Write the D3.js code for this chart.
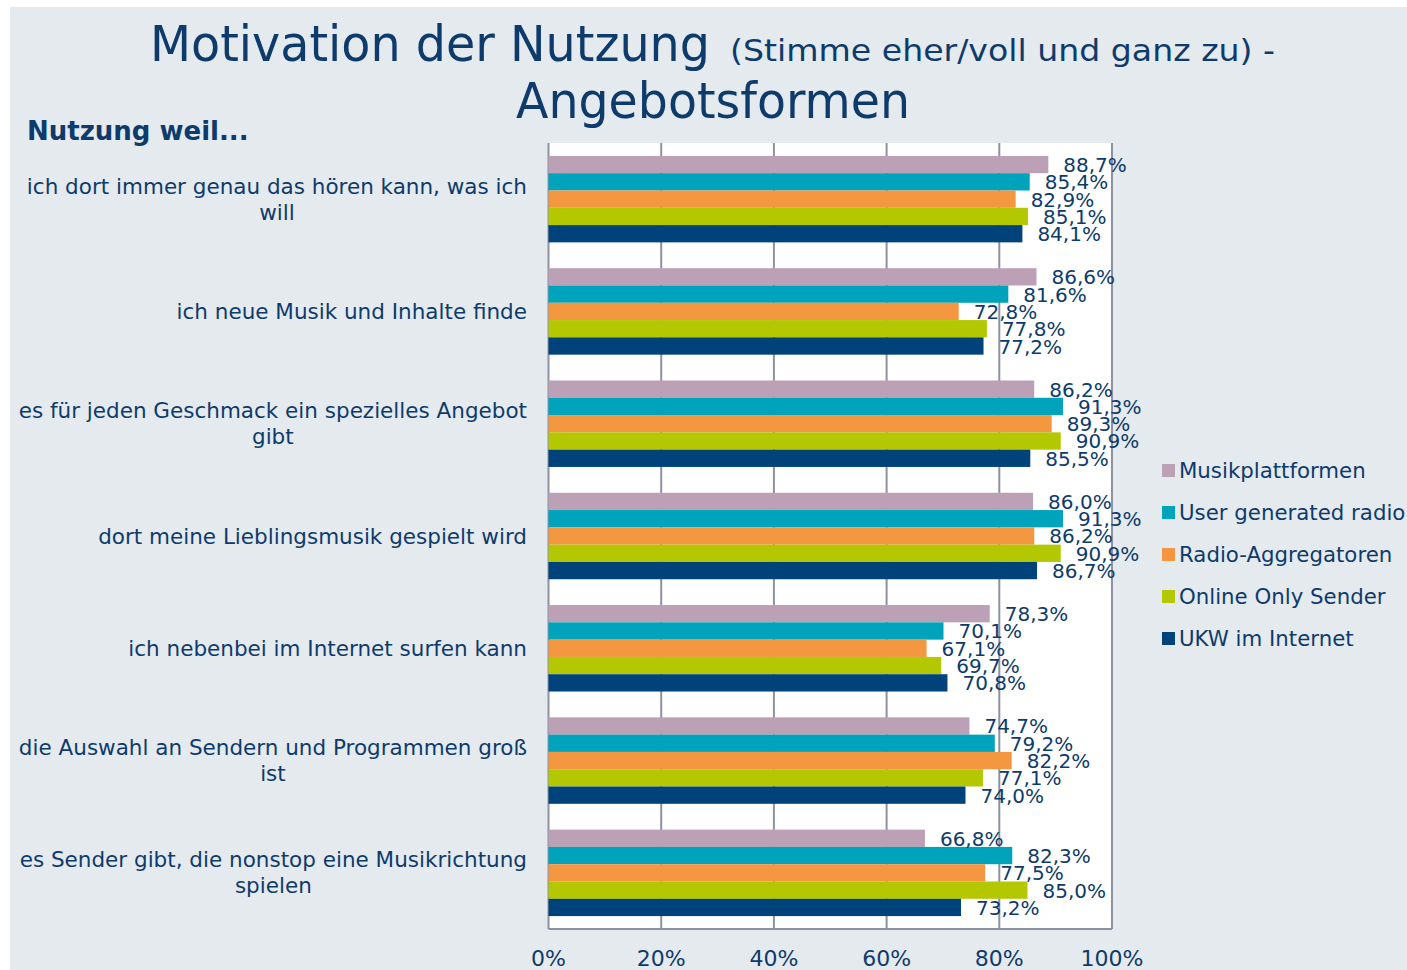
<!DOCTYPE html>
<html>
<head>
<meta charset="utf-8">
<script src="https://cdn.jsdelivr.net/npm/d3@7"></script>
<style>
  body { margin: 0; background: #fff; }
  svg { display: block; }
  text { font-family: "DejaVu Sans", Verdana, sans-serif; fill: #0d3b6b; }
</style>
</head>
<body>
<div id="chart"></div>
<script>
// chart data
const categories = [
  ["ich dort immer genau das hören kann, was ich", "will"],
  ["ich neue Musik und Inhalte finde"],
  ["es für jeden Geschmack ein spezielles Angebot", "gibt"],
  ["dort meine Lieblingsmusik gespielt wird"],
  ["ich nebenbei im Internet surfen kann"],
  ["die Auswahl an Sendern und Programmen groß", "ist"],
  ["es Sender gibt, die nonstop eine Musikrichtung", "spielen"]
];
const seriesNames = ["Musikplattformen", "User generated radio", "Radio-Aggregatoren", "Online Only Sender", "UKW im Internet"];
const musikplattformen = [88.7, 86.6, 86.2, 86.0, 78.3, 74.7, 66.8];
const userRadio = [85.4, 81.6, 91.3, 91.3, 70.1, 79.2, 82.3];
const radioAggregatoren = [82.9, 72.8, 89.3, 86.2, 67.1, 82.2, 77.5];
const onlineOnly = [85.1, 77.8, 90.9, 90.9, 69.7, 77.1, 85.0];
const ukwInternet = [84.1, 77.2, 85.5, 86.7, 70.8, 74.0, 73.2];
const xTicks = [0, 20, 40, 60, 80, 100];

const colors = ["#bca0b6", "#00a3bc", "#f39740", "#b3c800", "#00437b"];
const allSeries = [musikplattformen, userRadio, radioAggregatoren, onlineOnly, ukwInternet];

const width = 1407, height = 970;
const plot = {left: 548.5, right: 1112, top: 143, bottom: 929};

const svg = d3.select("#chart").append("svg")
    .attr("width", width)
    .attr("height", height);

// background
svg.append("rect")
    .attr("x", 10).attr("y", 7)
    .attr("width", width - 10).attr("height", height - 7)
    .attr("fill", "#e5eaef");

// title
svg.append("text")
    .attr("x", 150).attr("y", 61)
    .attr("font-family", "'DejaVu Sans Condensed', 'DejaVu Sans', sans-serif")
    .attr("font-size", 50)
    .attr("textLength", 560).attr("lengthAdjust", "spacingAndGlyphs")
    .text("Motivation der Nutzung");
svg.append("text")
    .attr("x", 730).attr("y", 61)
    .attr("font-family", "'DejaVu Sans Condensed', 'DejaVu Sans', sans-serif")
    .attr("font-size", 31)
    .attr("textLength", 545).attr("lengthAdjust", "spacingAndGlyphs")
    .text("(Stimme eher/voll und ganz zu) -");
svg.append("text")
    .attr("x", 516).attr("y", 118)
    .attr("font-family", "'DejaVu Sans Condensed', 'DejaVu Sans', sans-serif")
    .attr("font-size", 50)
    .attr("textLength", 394).attr("lengthAdjust", "spacingAndGlyphs")
    .text("Angebotsformen");

svg.append("text")
    .attr("x", 27).attr("y", 140)
    .attr("font-size", 26)
    .attr("font-weight", "bold")
    .text("Nutzung weil...");

// scales
const x = d3.scaleLinear().domain([0, 100]).range([plot.left, plot.right]);
const y0 = d3.scaleBand()
    .domain(d3.range(categories.length))
    .range([plot.top, plot.bottom])
    .paddingInner(0.23).paddingOuter(0.115);
const y1 = d3.scaleBand()
    .domain(d3.range(seriesNames.length))
    .range([0, y0.bandwidth()]);

// plot area
svg.append("rect")
    .attr("x", plot.left).attr("y", plot.top)
    .attr("width", plot.right - plot.left).attr("height", plot.bottom - plot.top)
    .attr("fill", "#ffffff");

svg.append("g")
    .selectAll("line")
    .data(xTicks)
    .join("line")
    .attr("x1", d => x(d)).attr("x2", d => x(d))
    .attr("y1", plot.top).attr("y2", plot.bottom)
    .attr("stroke", "#8d92a2")
    .attr("stroke-width", 2);

svg.append("line")
    .attr("x1", plot.left).attr("x2", plot.right)
    .attr("y1", plot.bottom).attr("y2", plot.bottom)
    .attr("stroke", "#8d92a2")
    .attr("stroke-width", 2);

// bars
const fmt = v => v.toFixed(1).replace(".", ",") + "%";

const groups = svg.append("g")
    .selectAll("g")
    .data(categories.map((c, i) => i))
    .join("g")
    .attr("transform", i => `translate(0,${y0(i)})`);

groups.selectAll("rect")
    .data(i => allSeries.map((s, j) => ({s: j, v: s[i]})))
    .join("rect")
    .attr("x", x(0))
    .attr("y", d => y1(d.s))
    .attr("width", d => x(d.v) - x(0))
    .attr("height", y1.bandwidth())
    .attr("fill", d => colors[d.s]);

groups.selectAll("text.val")
    .data(i => allSeries.map((s, j) => ({s: j, v: s[i]})))
    .join("text")
    .attr("class", "val")
    .attr("x", d => x(d.v) + 15)
    .attr("y", d => y1(d.s) + y1.bandwidth() / 2 + 7.5)
    .attr("font-size", 20)
    .text(d => fmt(d.v));

// category labels: block right-aligned, lines centred within block
categories.forEach((lines, i) => {
    const g = svg.append("g");
    const cy = y0(i) + y0.bandwidth() / 2;
    const lh = 26;
    const texts = lines.map((l, k) => g.append("text")
        .attr("font-size", 21.5)
        .attr("y", cy + (k - (lines.length - 1) / 2) * lh + 7.5)
        .text(l));
    const maxW = d3.max(texts, t => t.node().getComputedTextLength());
    const center = 527 - maxW / 2;
    texts.forEach(t => t.attr("x", center).attr("text-anchor", "middle"));
});

// x axis labels
svg.append("g")
    .selectAll("text")
    .data(xTicks)
    .join("text")
    .attr("x", d => x(d))
    .attr("y", 966)
    .attr("text-anchor", "middle")
    .attr("font-size", 22)
    .text(d => d + "%");

// legend
const legend = svg.append("g")
    .selectAll("g")
    .data(seriesNames)
    .join("g")
    .attr("transform", (d, i) => `translate(1162,${470 + i * 42})`);

legend.append("rect")
    .attr("x", 0).attr("y", -6)
    .attr("width", 13).attr("height", 13)
    .attr("fill", (d, i) => colors[i]);

legend.append("text")
    .attr("x", 17).attr("y", 8)
    .attr("font-size", 21.3)
    .text(d => d);
</script>
</body>
</html>
